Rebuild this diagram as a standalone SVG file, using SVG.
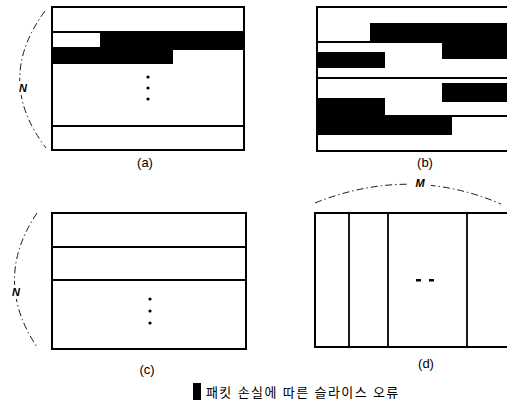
<svg xmlns="http://www.w3.org/2000/svg" width="507" height="410" viewBox="0 0 507 410">
  <style>
    .frame { fill: #fff; stroke: #000; stroke-width: 2; }
    .line { stroke: #000; stroke-width: 1.8; fill: none; }
    .lost { fill: #000; }
    .brace { fill: none; stroke: #000; stroke-width: 0.9; stroke-dasharray: 7 3 1.5 3; }
    .gap { fill: #fff; }
    .cap { font-family: "Liberation Sans", Arial, sans-serif; font-size: 13px; text-anchor: middle; fill: #000; }
    .var { font-family: "Liberation Sans", Arial, sans-serif; font-size: 11px; font-style: italic; font-weight: bold; text-anchor: middle; fill: #000; }
    .legend { font-family: "Liberation Sans", "Noto Sans CJK KR", sans-serif; font-size: 13px; letter-spacing: 1.4px; fill: #000; }
  </style>
  <rect width="507" height="410" fill="#fff"/>

  <!-- (a) slices as raster rows, one slice lost across two rows -->
  <g id="panel-a">
    <rect class="frame" x="52" y="7" width="192" height="143"/>
    <line class="line" x1="52" y1="32" x2="244" y2="32"/>
    <rect class="lost" x="100" y="32" width="144" height="18"/>
    <rect class="lost" x="52" y="47" width="121" height="17"/>
    <line class="line" x1="52" y1="126" x2="244" y2="126"/>
    <circle cx="148" cy="77" r="1.6"/>
    <circle cx="148" cy="88" r="1.6"/>
    <circle cx="148" cy="99" r="1.6"/>
    <path class="brace" d="M45 11 Q-6 80 46 148"/>
    <rect class="gap" x="16" y="81" width="14" height="14"/>
    <text class="var" x="23" y="92">N</text>
    <text class="cap" x="145" y="167">(a)</text>
  </g>

  <!-- (b) slices of arbitrary length -->
  <g id="panel-b">
    <rect class="frame" x="317" y="7" width="192" height="144"/>
    <rect class="lost" x="370" y="23" width="139" height="19"/>
    <line class="line" x1="317" y1="42" x2="509" y2="42"/>
    <rect class="lost" x="442" y="42" width="67" height="17"/>
    <rect class="lost" x="317" y="52" width="68" height="16"/>
    <line class="line" x1="317" y1="78" x2="509" y2="78"/>
    <rect class="lost" x="442" y="83" width="67" height="19"/>
    <rect class="lost" x="317" y="98" width="68" height="18"/>
    <line class="line" x1="385" y1="116" x2="509" y2="116"/>
    <rect class="lost" x="317" y="116" width="135" height="19"/>
    <text class="cap" x="425" y="167">(b)</text>
  </g>

  <!-- (c) one slice per row -->
  <g id="panel-c">
    <rect class="frame" x="52" y="213" width="194" height="136"/>
    <line class="line" x1="52" y1="247" x2="246" y2="247"/>
    <line class="line" x1="52" y1="280" x2="246" y2="280"/>
    <circle cx="150" cy="299" r="1.6"/>
    <circle cx="150" cy="311" r="1.6"/>
    <circle cx="150" cy="323" r="1.6"/>
    <path class="brace" d="M37 213 Q-8 280 37 347"/>
    <rect class="gap" x="9" y="285" width="14" height="14"/>
    <text class="var" x="16" y="296">N</text>
    <text class="cap" x="147" y="374">(c)</text>
  </g>

  <!-- (d) one slice per column -->
  <g id="panel-d">
    <rect class="frame" x="315" y="213" width="194" height="134"/>
    <line class="line" x1="349" y1="213" x2="349" y2="347"/>
    <line class="line" x1="388" y1="213" x2="388" y2="347"/>
    <line class="line" x1="467" y1="213" x2="467" y2="347"/>
    <rect x="416" y="279" width="5" height="2.5"/>
    <rect x="429" y="279" width="5" height="2.5"/>
    <path class="brace" d="M315 203 Q410 165 501 204"/>
    <rect class="gap" x="409" y="176" width="22" height="12"/>
    <text class="var" x="420" y="187">M</text>
    <text class="cap" x="426" y="368">(d)</text>
  </g>

  <!-- legend -->
  <g id="legend">
    <rect class="lost" x="193" y="383" width="8" height="17"/>
    <text class="legend" x="206" y="397">패킷 손실에 따른 슬라이스 오류</text>
  </g>
</svg>
